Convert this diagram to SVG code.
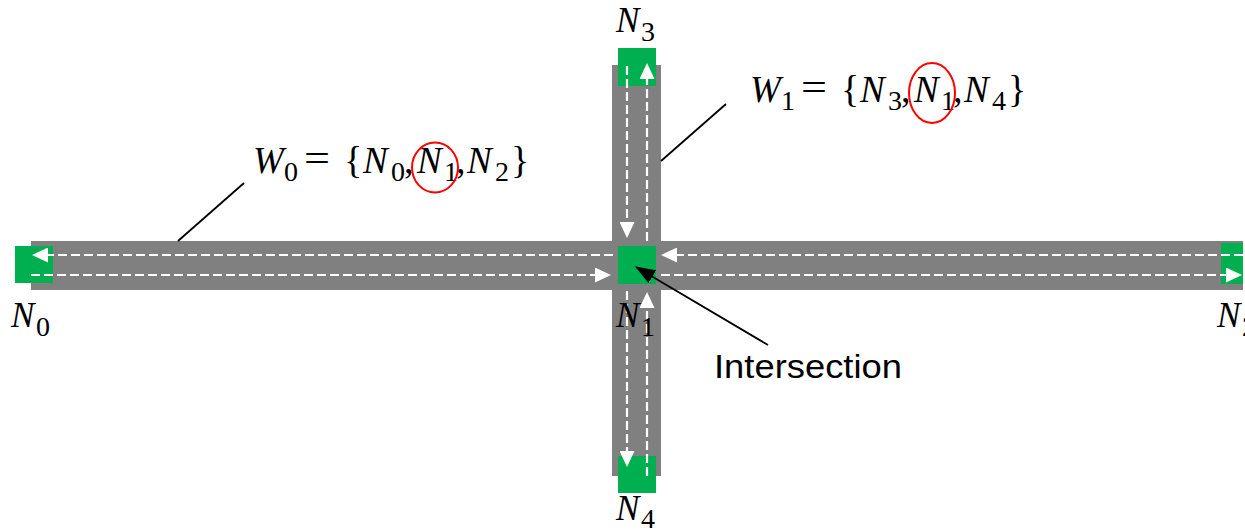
<svg xmlns="http://www.w3.org/2000/svg" width="1245" height="532" viewBox="0 0 1245 532">
<style>
.road{fill:#808080}
.node{fill:#00B050}
.lane{stroke:#fff;stroke-width:2.2;stroke-dasharray:9 4;fill:none;marker-end:url(#wa)}
.lead{stroke:#000;stroke-width:1.8;fill:none}
.m{font-family:"Liberation Serif","DejaVu Serif",serif;font-style:italic;font-size:35px;fill:#000}
.s{font-family:"Liberation Serif","DejaVu Serif",serif;font-style:normal;font-size:28px;fill:#000}
.u{font-family:"Liberation Serif","DejaVu Serif",serif;font-style:normal;font-size:38px;fill:#000}
.f{font-family:"Liberation Serif","DejaVu Serif",serif;font-style:italic;font-size:37px;fill:#000}
.circ{fill:none;stroke:#FF0000;stroke-width:2}
.lbl{font-family:"Liberation Sans",Arial,sans-serif;font-size:33px;fill:#000}
</style>
<defs>
<marker id="wa" markerUnits="userSpaceOnUse" markerWidth="16" markerHeight="15" refX="3" refY="7.5" orient="auto"><path d="M0,0 L16,7.5 L0,15 z" fill="#fff"/></marker>
<marker id="ba" markerUnits="userSpaceOnUse" markerWidth="20" markerHeight="15" refX="19" refY="7.5" orient="auto"><path d="M0,0 L20,7.5 L0,15 z" fill="#000"/></marker>
</defs>
<g id="roads">
<rect class="road" x="31" y="241" width="1212" height="49"/>
<rect class="road" x="612" y="65" width="49" height="411"/>
</g>
<g id="N0"><rect class="node" x="15" y="246" width="38" height="37"/></g>
<g id="N1"><rect class="node" x="618" y="246" width="38" height="38"/></g>
<g id="N2"><rect class="node" x="1221" y="243" width="22" height="41"/></g>
<g id="N3"><rect class="node" x="618" y="48" width="38" height="38"/></g>
<g id="N4"><rect class="node" x="618" y="456" width="38" height="37"/></g>
<g id="connectors">
<path class="lane" d="M1243,255 H674"/>
<path class="lane" d="M613,255 H45"/>
<path class="lane" d="M31,275 H598"/>
<path class="lane" d="M661,275 H1229"/>
<path class="lane" d="M627,66 V225"/>
<path class="lane" d="M627,291 V454"/>
<path class="lane" d="M647,476 V305"/>
<path class="lane" d="M647,241 V76"/>
<path class="lead" d="M244,183 L178,241"/>
<path class="lead" d="M726,104 L661,161"/>
<path class="lead" d="M768,345 L636,267" stroke-width="2.2" marker-end="url(#ba)"/>
</g>
<g id="N0-label"><text class="m" x="11" y="327">N</text><text class="s" x="36" y="336">0</text></g>
<g id="N1-label"><text class="m" x="616" y="327">N</text><text class="s" x="641" y="336">1</text></g>
<g id="N2-label"><text class="m" x="1217" y="327">N</text><text class="s" x="1242" y="336">2</text></g>
<g id="N3-label"><text class="m" x="616" y="32">N</text><text class="s" x="641" y="41">3</text></g>
<g id="N4-label"><text class="m" x="616" y="520">N</text><text class="s" x="641" y="528">4</text></g>
<g id="W0">
<text class="f" x="253" y="173">W</text><text class="s" x="284" y="181">0</text>
<text class="u" x="304" y="171" textLength="26" lengthAdjust="spacingAndGlyphs">=</text>
<text class="u" x="344" y="173">{</text>
<text class="f" x="363" y="173">N</text><text class="s" x="391" y="181">0</text>
<text class="u" x="404" y="173">,</text>
<text class="f" x="417" y="173">N</text><text class="s" x="444" y="181">1</text>
<text class="u" x="456" y="173">,</text>
<text class="f" x="467" y="173">N</text><text class="s" x="495" y="181">2</text>
<text class="u" x="511" y="173">}</text>
<ellipse class="circ" cx="435" cy="167.5" rx="23" ry="25"/>
</g>
<g id="W1">
<text class="f" x="750" y="102">W</text><text class="s" x="781" y="110">1</text>
<text class="u" x="801" y="100" textLength="26" lengthAdjust="spacingAndGlyphs">=</text>
<text class="u" x="841" y="102">{</text>
<text class="f" x="860" y="102">N</text><text class="s" x="888" y="110">3</text>
<text class="u" x="901" y="102">,</text>
<text class="f" x="914" y="102">N</text><text class="s" x="941" y="110">1</text>
<text class="u" x="953" y="102">,</text>
<text class="f" x="964" y="102">N</text><text class="s" x="992" y="110">4</text>
<text class="u" x="1008" y="102">}</text>
<ellipse class="circ" cx="932" cy="93" rx="23" ry="30"/>
</g>
<g id="Intersection"><text class="lbl" x="714" y="378" textLength="188" lengthAdjust="spacingAndGlyphs">Intersection</text></g>
</svg>
